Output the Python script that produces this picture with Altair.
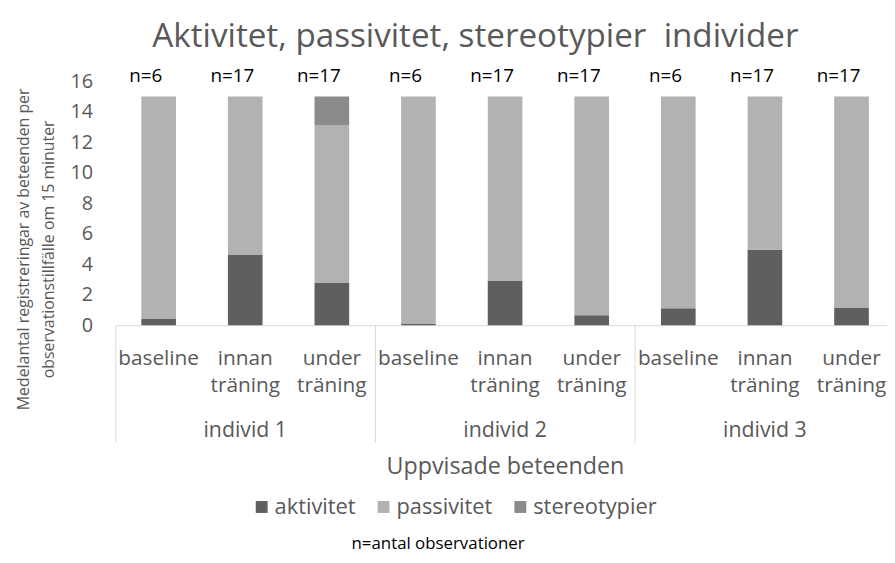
import altair as alt
import pandas as pd

# ---- data ----
individer = ["individ 1", "individ 2", "individ 3"]
faser = ["baseline", "innan träning", "under träning"]
n_obs = [6, 17, 17, 6, 17, 17, 6, 17, 17]
aktivitet = [0.4, 4.6, 2.8, 0.1, 2.9, 0.65, 1.1, 4.95, 1.15]
passivitet = [14.6, 10.4, 10.3, 14.9, 12.1, 14.35, 13.9, 10.05, 13.85]
stereotypier = [0, 0, 1.9, 0, 0, 0, 0, 0, 0]
serier = ["aktivitet", "passivitet", "stereotypier"]
farger = ["#5f5f5f", "#b2b2b2", "#8b8b8b"]
y_ticks = [0, 2, 4, 6, 8, 10, 12, 14, 16]
y_title_1 = "Medelantal registreringar av beteenden per"
y_title_2 = "observationstillfälle om 15 minuter"

FONT = "Open Sans"
GREY = "#595959"
LINE = "#d9d9d9"

keys = [f"{i}|{f}" for i in individer for f in faser]
rows = []
for k_i, key in enumerate(keys):
    for s_i, (name, vals) in enumerate(zip(serier, [aktivitet, passivitet, stereotypier])):
        rows.append({"key": key, "serie": name, "ord": s_i, "value": vals[k_i]})
df = pd.DataFrame(rows)
df_n = pd.DataFrame({"key": keys, "n": [f"n={v}" for v in n_obs], "value": [16] * len(keys)})
df_g = pd.DataFrame({"individ": individer})
df_note = pd.DataFrame({"t": ["n=antal observationer"]})

PLOT_W = 786.6  # full plot width (right end is cut by the window)
VIEW_W = 778.7
VIEW_H = 246.2

x_key = alt.X(
    "key:N",
    sort=keys,
    scale=alt.Scale(domain=keys, range=[0, PLOT_W], paddingInner=0.6, paddingOuter=0.3),
    axis=alt.Axis(
        title=None, labelAngle=0, ticks=False, domainColor=LINE, domainWidth=1,
        labelFontSize=21, labelColor=GREY, labelPadding=23, labelLineHeight=27,
        labelOverlap=False, labelLimit=200,
        labelExpr="split(split(datum.label, '|')[1], ' ')",
    ),
)

y_axis = alt.Axis(
    values=y_ticks, grid=False, domain=False, ticks=False, tickSize=0,
    labelFontSize=20, labelColor=GREY, labelPadding=23, labelOverlap=False,
    title=None,
)
y_scale = alt.Scale(domain=[0, 16], nice=False)

bars = alt.Chart(df).mark_bar().encode(
    x=x_key,
    y=alt.Y("value:Q", stack="zero", scale=y_scale, axis=y_axis),
    color=alt.Color(
        "serie:N",
        scale=alt.Scale(domain=serier, range=farger),
        legend=alt.Legend(
            orient="none", legendX=136.7, legendY=418.7, direction="horizontal",
            title=None, symbolType="square", symbolSize=144, symbolStrokeWidth=0,
            labelFontSize=22, labelColor=GREY, labelOffset=2, columnPadding=17,
        ),
    ),
    order=alt.Order("ord:Q", sort="ascending"),
)

ntext = alt.Chart(df_n).mark_text(
    dy=-5, dx=-13, fontSize=19, color="#000000", baseline="middle", font=FONT
).encode(
    x=alt.X("key:N", sort=keys),
    y=alt.Y("value:Q", scale=y_scale, axis=y_axis),
    text="n:N",
)

note = alt.Chart(df_note).mark_text(
    fontSize=17, color="#000000", baseline="middle", align="center", font=FONT
).encode(x=alt.value(325.7), y=alt.value(466.7), text="t:N")

ytitle1 = alt.Chart(pd.DataFrame({"t": [y_title_1]})).mark_text(
    fontSize=16, color=GREY, baseline="middle", align="center", font=FONT, angle=270,
).encode(x=alt.value(-91.8), y=alt.value(169.7), text="t:N")
ytitle2 = alt.Chart(pd.DataFrame({"t": [y_title_2]})).mark_text(
    fontSize=16, color=GREY, baseline="middle", align="center", font=FONT, angle=270,
).encode(x=alt.value(-67.3), y=alt.value(169.7), text="t:N")

groups = alt.Chart(df_g).mark_point(opacity=0).encode(
    x=alt.X(
        "individ:N", sort=individer,
        scale=alt.Scale(type="band", domain=individer, range=[0, PLOT_W],
                        paddingInner=0, paddingOuter=0),
        axis=alt.Axis(
            orient="bottom", domain=False, ticks=True, tickSize=118,
            tickColor=LINE, tickWidth=1, bandPosition=0,
            labelPadding=-22.5, labelFontSize=21.5, labelColor=GREY, labelAngle=0,
            labelOverlap=False,
            title="Uppvisade beteenden", titleFontSize=23.5, titleColor=GREY,
            titleFontWeight="normal", titleX=393.2, titleY=142.5,
            titleBaseline="middle",
        ),
    )
)

inner = alt.layer(bars, ntext, note, ytitle1, ytitle2)
chart = (
    alt.layer(inner, groups)
    .resolve_scale(x="independent")
    .properties(
        width=VIEW_W, height=VIEW_H,
        autosize=alt.AutoSizeParams(type="none"),
        padding={"left": 108.3, "top": 71.3, "right": 0, "bottom": 237.5},
        title=alt.TitleParams(
            "Aktivitet, passivitet, stereotypier\u00a0 individer",
            fontSize=33.5, font=FONT, color=GREY, fontWeight="normal",
            anchor="middle", dx=-26, dy=-9,
        ),
    )
    .configure(font=FONT)
    .configure_view(stroke=None)
)

chart.save("out.html", embed_options={"renderer": "svg", "actions": False})
